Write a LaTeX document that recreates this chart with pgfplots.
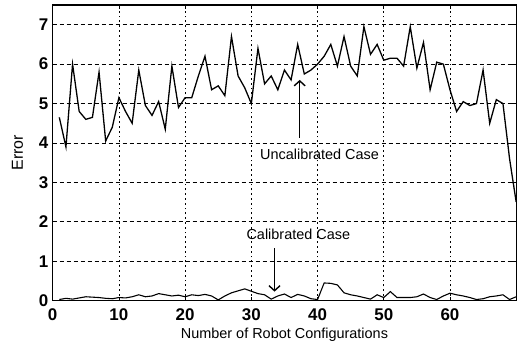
\documentclass[border=0pt]{standalone}
\usepackage{pgfplots}
\pgfplotsset{compat=1.18}
\usetikzlibrary{arrows.meta}
\usepackage{fontspec}
\setmainfont{Liberation Sans}
\begin{document}
\begin{tikzpicture}
\begin{axis}[
  scale only axis,
  width=463.5bp, height=295.7bp,
  xmin=0, xmax=70, ymin=0, ymax=7.5,
  xtick={0,10,...,60}, ytick={0,1,...,7},
  xticklabels={0,10,20,30,40,50,60},
  yticklabels={0,1,2,3,4,5,6,7},
  tick align=inside,
  major tick length=4bp,
  tick style={black, line width=0.8pt},
  grid=major,
  x grid style={black, line width=0.8pt, dash pattern=on 1.8bp off 3bp},
  y grid style={black, line width=0.8pt, dash pattern=on 4bp off 3bp},
  axis line style={black, line width=1.3pt},
  ticklabel style={font=\fontsize{17}{17}\selectfont\bfseries},
  xticklabel style={yshift=-4bp},
  yticklabel style={xshift=-1bp},
  xlabel={Number of Robot Configurations},
  ylabel={Error},
  xlabel style={font=\fontsize{14.5}{14.5}\selectfont, yshift=-1bp},
  ylabel style={font=\fontsize{16}{16}\selectfont, yshift=9bp},
  clip=false,
]
\addplot[black, line width=1.3pt] coordinates {
(1,4.65)(2,3.9)(3,6.0)(4,4.8)(5,4.6)(6,4.65)(7,5.8)(8,4.05)(9,4.4)(10,5.15)
(11,4.8)(12,4.5)(13,5.85)(14,4.95)(15,4.7)(16,5.05)(17,4.35)(18,5.95)(19,4.9)(20,5.15)
(21,5.15)(22,5.7)(23,6.2)(24,5.35)(25,5.45)(26,5.2)(27,6.7)(28,5.7)(29,5.4)(30,5.0)
(31,6.4)(32,5.5)(33,5.7)(34,5.35)(35,5.85)(36,5.6)(37,6.5)(38,5.75)(39,5.85)(40,6.0)
(41,6.2)(42,6.5)(43,5.95)(44,6.7)(45,5.95)(46,5.7)(47,6.95)(48,6.25)(49,6.5)(50,6.1)
(51,6.15)(52,6.15)(53,5.95)(54,6.95)(55,5.9)(56,6.55)(57,5.35)(58,6.05)(59,6.0)(60,5.35)
(61,4.8)(62,5.05)(63,4.95)(64,5.0)(65,5.85)(66,4.5)(67,5.1)(68,5.0)(69,3.6)(70,2.5)
};
\addplot[black, line width=1.1pt] coordinates {
(1,0.03)(2,0.06)(3,0.04)(4,0.07)(5,0.1)(6,0.09)(7,0.08)(8,0.06)(9,0.05)(10,0.08)
(11,0.07)(12,0.1)(13,0.15)(14,0.1)(15,0.12)(16,0.18)(17,0.15)(18,0.12)(19,0.14)(20,0.1)
(21,0.15)(22,0.13)(23,0.16)(24,0.12)(25,0.02)(26,0.12)(27,0.2)(28,0.25)(29,0.3)(30,0.24)
(31,0.18)(32,0.15)(33,0.04)(34,0.12)(35,0.17)(36,0.08)(37,0.16)(38,0.12)(39,0.05)(40,0.03)
(41,0.45)(42,0.44)(43,0.4)(44,0.2)(45,0.15)(46,0.12)(47,0.08)(48,0.04)(49,0.15)(50,0.08)
(51,0.23)(52,0.08)(53,0.08)(54,0.08)(55,0.1)(56,0.17)(57,0.08)(58,0.03)(59,0.12)(60,0.19)
(61,0.15)(62,0.12)(63,0.08)(64,0.03)(65,0.05)(66,0.1)(67,0.12)(68,0.15)(69,0.03)(70,0.1)
};
\draw[black, line width=1.4pt, -{Straight Barb[length=5bp,width=11bp]}] (axis cs:37.3,4.13) -- (axis cs:37.3,5.6);
\node[font=\fontsize{14.5}{14.5}\selectfont] at (axis cs:40.3,3.72) {Uncalibrated Case};
\draw[black, line width=1.4pt, -{Straight Barb[length=5bp,width=11bp]}] (axis cs:33.5,1.33) -- (axis cs:33.5,0.23);
\node[font=\fontsize{14.5}{14.5}\selectfont] at (axis cs:37.1,1.69) {Calibrated Case};
\end{axis}
\pgfresetboundingbox
\path (-52.7bp,-42.3bp) rectangle (466.3bp,300.7bp);
\end{tikzpicture}
\end{document}
